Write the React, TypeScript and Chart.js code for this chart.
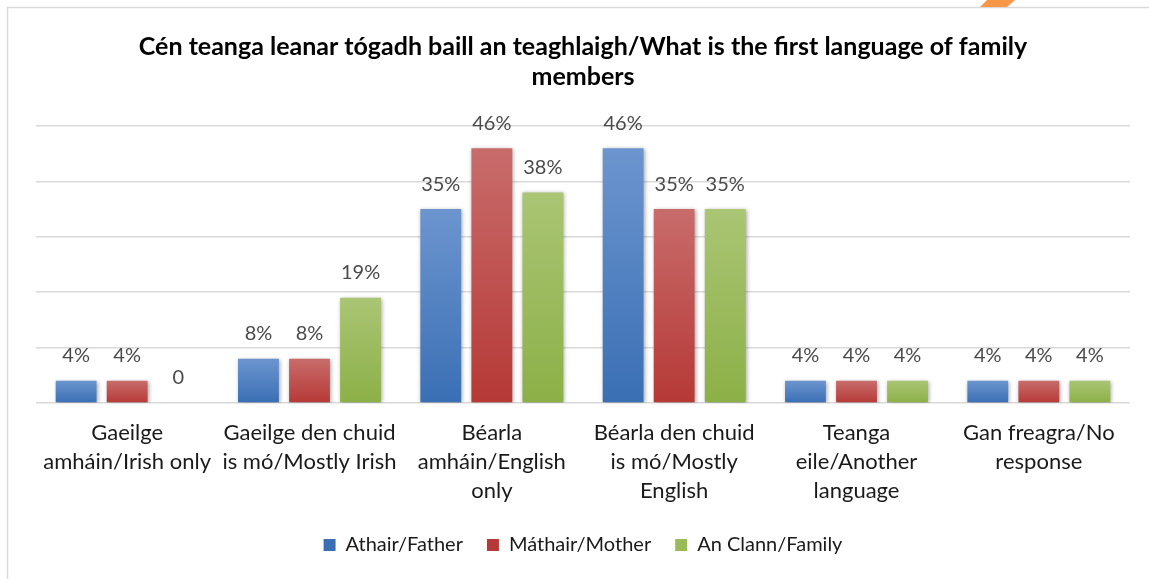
import React, { useEffect, useRef } from "react";
import { Chart, registerables } from "chart.js";

Chart.register(...registerables);

const titleLines = [
  "Cén teanga leanar tógadh baill an teaghlaigh/What is the first language of family",
  "members",
];

const categories = [
  ["Gaeilge", "amháin/Irish only"],
  ["Gaeilge den chuid", "is mó/Mostly Irish"],
  ["Béarla", "amháin/English", "only"],
  ["Béarla den chuid", "is mó/Mostly", "English"],
  ["Teanga", "eile/Another", "language"],
  ["Gan freagra/No", "response"],
];

const seriesNames = ["Athair/Father", "Máthair/Mother", "An Clann/Family"];
const fatherValues = [4, 8, 35, 46, 4, 4];
const motherValues = [4, 8, 46, 35, 4, 4];
const familyValues = [0, 19, 38, 35, 4, 4];

const yTicks = [0, 10, 20, 30, 40, 50];

const palettes = [
  { top: "#6c95cf", bottom: "#3a6fb4", solid: "#4a7cc0" },
  { top: "#c86c6b", bottom: "#b63936", solid: "#c0504d" },
  { top: "#aac574", bottom: "#8cb047", solid: "#9bbb59" },
];

const FONT = "Lato, Carlito, Calibri, 'Open Sans', sans-serif";

function gradientFill(idx: number) {
  return (ctx: any) => {
    const p = palettes[idx];
    const chart = ctx.chart;
    if (ctx.type !== "data" || !chart.chartArea || !chart.scales.y) return p.solid;
    const y = chart.scales.y;
    const v = ctx.raw as number;
    const top = y.getPixelForValue(v);
    const bottom = y.getPixelForValue(0);
    if (!isFinite(top) || !isFinite(bottom) || Math.abs(bottom - top) < 1) return p.solid;
    const g = chart.ctx.createLinearGradient(0, top, 0, bottom);
    g.addColorStop(0, p.top);
    g.addColorStop(1, p.bottom);
    return g;
  };
}

const framePlugin = {
  id: "frame",
  beforeDraw(chart: any) {
    const c = chart.ctx;
    c.save();
    c.fillStyle = "#ffffff";
    c.fillRect(0, 0, chart.width, chart.height);
    c.strokeStyle = "#d9d9d9";
    c.lineWidth = 1.5;
    c.beginPath();
    c.moveTo(7.5, chart.height);
    c.lineTo(7.5, 7.5);
    c.lineTo(chart.width, 7.5);
    c.stroke();
    c.fillStyle = "#f79646";
    c.beginPath();
    c.moveTo(987, 0);
    c.lineTo(1015, 0);
    c.lineTo(1007, 7);
    c.lineTo(980, 7);
    c.closePath();
    c.fill();
    c.restore();
  },
};

const barDecorPlugin = {
  id: "barDecor",
  beforeDatasetsDraw(chart: any) {
    const c = chart.ctx;
    c.save();
    c.shadowColor = "rgba(0,0,0,0.35)";
    c.shadowBlur = 4;
    c.shadowOffsetX = 1;
    c.shadowOffsetY = 1;
  },
  afterDatasetsDraw(chart: any) {
    const c = chart.ctx;
    c.restore();
    c.save();
    c.font = `20px ${FONT}`;
    c.fillStyle = "#4a4a4a";
    c.textAlign = "center";
    c.textBaseline = "middle";
    chart.data.datasets.forEach((ds: any, di: number) => {
      const meta = chart.getDatasetMeta(di);
      meta.data.forEach((el: any, i: number) => {
        const v = ds.data[i] as number;
        const txt = v === 0 ? "0" : `${Math.round(v)}%`;
        c.fillText(txt, el.x, el.y - 25);
      });
    });
    c.restore();
  },
};

export default function App() {
  const ref = useRef<HTMLCanvasElement | null>(null);

  useEffect(() => {
    if (!ref.current) return;
    const chart = new Chart(ref.current, {
      type: "bar",
      data: {
        labels: categories as any,
        datasets: [
          { label: seriesNames[0], data: fatherValues, backgroundColor: gradientFill(0) as any },
          { label: seriesNames[1], data: motherValues, backgroundColor: gradientFill(1) as any },
          { label: seriesNames[2], data: familyValues, backgroundColor: gradientFill(2) as any },
        ],
      },
      options: {
        animation: false,
        responsive: false,
        maintainAspectRatio: false,
        devicePixelRatio: 1,
        layout: { padding: { left: 36, right: 19, top: 0, bottom: 14 } },
        datasets: {
          bar: { categoryPercentage: 0.84, barPercentage: 0.8 },
        },
        scales: {
          x: {
            grid: { display: false, drawTicks: false },
            border: { display: false },
            afterFit: (axis: any) => {
              axis.height = 108;
            },
            ticks: {
              color: "#1a1a1a",
              font: { family: FONT, size: 22, lineHeight: "29px" as any },
              padding: 15,
              maxRotation: 0,
              autoSkip: false,
            },
          },
          y: {
            min: yTicks[0],
            max: yTicks[yTicks.length - 1],
            afterBuildTicks: (axis: any) => {
              axis.ticks = yTicks.map((v) => ({ value: v }));
            },
            grid: { color: "#d9d9d9", lineWidth: 1.5, drawTicks: false },
            border: { display: false },
            ticks: { display: false },
          },
        },
        plugins: {
          title: {
            display: true,
            text: titleLines,
            color: "#000000",
            font: { family: FONT, size: 25, weight: "bold", lineHeight: "30px" as any },
            padding: { top: 32, bottom: 34 },
          },
          legend: {
            position: "bottom",
            labels: {
              color: "#1a1a1a",
              font: { family: FONT, size: 20 },
              boxWidth: 12,
              boxHeight: 12,
              padding: 24,
            },
          },
          tooltip: { enabled: false },
        },
      },
      plugins: [framePlugin, barDecorPlugin],
    });
    return () => chart.destroy();
  }, []);

  return (
    <div style={{ position: "fixed", left: 0, top: 0, width: 1149, height: 579 }}>
      <canvas ref={ref} width={1149} height={579} style={{ width: 1149, height: 579, display: "block" }} />
    </div>
  );
}
